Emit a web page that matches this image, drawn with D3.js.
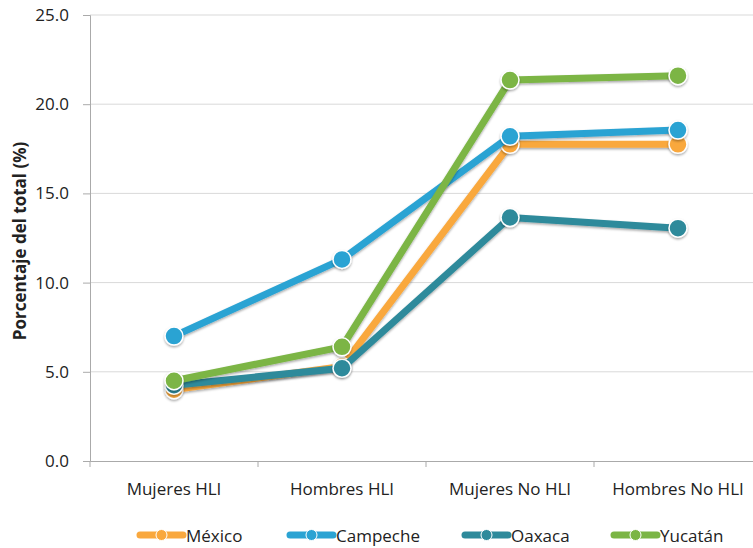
<!DOCTYPE html>
<html>
<head>
<meta charset="utf-8">
<script src="https://cdn.jsdelivr.net/npm/d3@7"></script>
<style>
  body { margin: 0; background: #fff; }
  text { font-family: "Open Sans", "Liberation Sans", sans-serif; fill: #222; }
</style>
</head>
<body>
<svg id="chart" width="753" height="548"></svg>
<script>
// categories and series
var categories = ["Mujeres HLI", "Hombres HLI", "Mujeres No HLI", "Hombres No HLI"];
var yTicks = [0, 5, 10, 15, 20, 25];
var mexico   = [4.0, 5.3, 17.75, 17.75];
var campeche = [7.0, 11.3, 18.2, 18.55];
var oaxaca   = [4.25, 5.2, 13.65, 13.05];
var yucatan  = [4.5, 6.4, 21.35, 21.6];

var seriesNames = ["México", "Campeche", "Oaxaca", "Yucatán"];
var seriesData = [mexico, campeche, oaxaca, yucatan];
var colors = ["#f9a83e", "#2ba3d3", "#2e8a9b", "#7bb545"];

var svg = d3.select("#chart");
var margin = {top: 15, left: 90},
    width = 672,
    height = 446;

var g = svg.append("g")
    .attr("transform", "translate(" + margin.left + "," + margin.top + ")");

var defs = svg.append("defs");
var f = defs.append("filter").attr("id", "shadow")
    .attr("x", "-50%").attr("y", "-50%").attr("width", "200%").attr("height", "200%");
f.append("feDropShadow").attr("dx", 0).attr("dy", 1.5).attr("stdDeviation", 1.2)
    .attr("flood-color", "#000").attr("flood-opacity", 0.35);

var x = d3.scaleBand().domain(categories).range([0, width]);
var y = d3.scaleLinear().domain([0, 25]).range([height, 0]);

// gridlines
g.append("g").selectAll("line")
  .data(yTicks.slice(1))
  .enter().append("line")
    .attr("x1", 0).attr("x2", width)
    .attr("y1", function(d) { return y(d); })
    .attr("y2", function(d) { return y(d); })
    .attr("stroke", "#d9d9d9").attr("stroke-width", 1);

// y axis
var yAxis = g.append("g")
    .call(d3.axisLeft(y).tickValues(yTicks).tickFormat(d3.format(".1f")).tickSize(7).tickPadding(14));
yAxis.select(".domain").attr("stroke", "#aaa");
yAxis.selectAll(".tick line").attr("stroke", "#aaa");
yAxis.selectAll("text").style("font-size", "17px").attr("fill", "#222");

// x axis
var xAxis = g.append("g")
    .attr("transform", "translate(0," + height + ")")
    .call(d3.axisBottom(x).tickSize(0).tickPadding(22));
xAxis.select(".domain").attr("stroke", "#aaa");
xAxis.selectAll("text").style("font-size", "17px").attr("fill", "#222");
xAxis.append("g").selectAll("line")
  .data(categories)
  .enter().append("line")
    .attr("x1", function(d) { return x(d) + x.bandwidth(); })
    .attr("x2", function(d) { return x(d) + x.bandwidth(); })
    .attr("y1", 0).attr("y2", 6)
    .attr("stroke", "#aaa");
xAxis.append("line").attr("x1", 0).attr("x2", 0).attr("y1", 0).attr("y2", 6).attr("stroke", "#aaa");

// y title
svg.append("text")
    .attr("transform", "translate(26," + (margin.top + height / 2 + 3) + ") rotate(-90)")
    .attr("text-anchor", "middle")
    .style("font-size", "17px").style("font-weight", "bold")
    .text("Porcentaje del total (%)");

var line = d3.line()
    .x(function(d, i) { return x(categories[i]) + x.bandwidth() / 2; })
    .y(function(d) { return y(d); });

// series
seriesData.forEach(function(vals, si) {
  var sg = g.append("g");
  sg.append("path")
    .datum(vals)
    .attr("d", line)
    .attr("fill", "none")
    .attr("stroke", colors[si])
    .attr("stroke-width", 7)
    .attr("stroke-linejoin", "round")
    .attr("filter", "url(#shadow)");
  sg.selectAll("circle")
    .data(vals)
    .enter().append("circle")
      .attr("cx", function(d, i) { return x(categories[i]) + x.bandwidth() / 2; })
      .attr("cy", function(d) { return y(d); })
      .attr("r", 9)
      .attr("fill", colors[si])
      .attr("stroke", "#fff")
      .attr("stroke-width", 1.5)
      .attr("filter", "url(#shadow)");
});

// legend
var legendX = [138, 288, 463, 612];
var legend = svg.append("g").attr("transform", "translate(0,535)");
seriesNames.forEach(function(name, i) {
  var lg = legend.append("g").attr("transform", "translate(" + legendX[i] + ",0)");
  lg.append("line").attr("x1", 2).attr("x2", 45).attr("y1", 0).attr("y2", 0)
    .attr("stroke", colors[i]).attr("stroke-width", 7).attr("stroke-linecap", "round");
  lg.append("circle").attr("cx", 23.5).attr("cy", 0).attr("r", 5.5)
    .attr("fill", colors[i]).attr("stroke", "#fff").attr("stroke-width", 1);
  lg.append("text").attr("x", 48).attr("y", 7)
    .style("font-size", "17px").text(name);
});
</script>
</body>
</html>
